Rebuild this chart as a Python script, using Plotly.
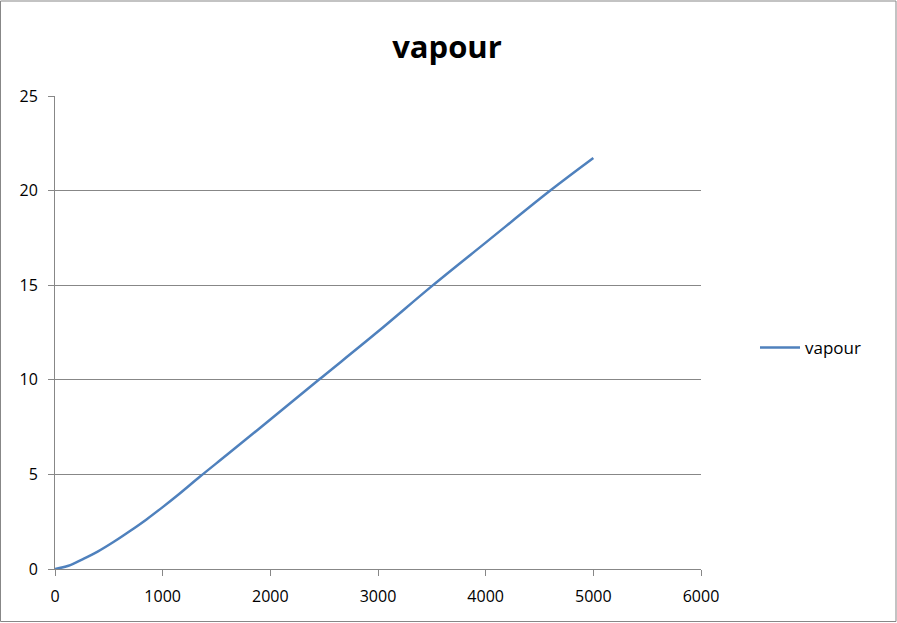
import plotly.graph_objects as go

x_vals = [0, 125, 250, 400, 550, 700, 850, 1000, 1150, 1350, 1600, 2000, 2450, 3000, 3500, 4000, 4600, 5000]
y_vals = [0, 0.17, 0.5, 0.93, 1.45, 2.02, 2.62, 3.27, 3.95, 4.9, 6.05, 7.9, 10.0, 12.55, 14.95, 17.25, 20.0, 21.72]
series_name = "vapour"
chart_title = "vapour"

W, H = 897, 623
L, R, T, B = 55, 196, 96, 54
pw, ph = W - L - R, H - T - B

fig = go.Figure()
fig.add_trace(go.Scatter(x=x_vals, y=y_vals, mode="lines", name=series_name,
                         line=dict(color="#4F81BD", width=2.5, shape="spline", smoothing=1.0)))

font = "Open Sans, Liberation Sans, sans-serif"
fig.update_layout(
    width=W, height=H,
    margin=dict(l=L, r=R, t=T, b=B, autoexpand=False),
    paper_bgcolor="white", plot_bgcolor="white",
    title=dict(text="<b>" + chart_title + "</b>", x=447 / W, xanchor="center",
               y=1 - 47 / H, yanchor="middle", font=dict(size=31, color="black", family=font)),
    showlegend=True,
    legend=dict(x=(755 - L) / pw, y=(569 - 348) / ph, xanchor="left", yanchor="middle",
                font=dict(size=17, color="black", family=font), bgcolor="rgba(0,0,0,0)",
                itemwidth=40),
    xaxis=dict(range=[0, 6000], tickvals=[0, 1000, 2000, 3000, 4000, 5000, 6000],
               showgrid=False, zeroline=False, showline=True, linecolor="#878787", linewidth=1,
               ticks="outside", ticklen=6, tickcolor="#878787", ticklabelstandoff=7,
               tickfont=dict(size=16, color="black", family=font)),
    yaxis=dict(range=[0, 25], tickvals=[0, 5, 10, 15, 20, 25],
               showgrid=True, gridcolor="#878787", gridwidth=1, zeroline=False,
               showline=True, linecolor="#878787", linewidth=1,
               ticks="outside", ticklen=6, tickcolor="#878787", ticklabelstandoff=7,
               tickfont=dict(size=16, color="black", family=font)),
)

fig.add_shape(type="rect", xref="paper", yref="paper",
              x0=(0.5 - L) / pw, x1=(896 - L) / pw,
              y0=(569 - 621.5) / ph, y1=(569 - 1) / ph,
              line=dict(color="#878787", width=1), fillcolor="rgba(0,0,0,0)", layer="below")

fig.write_html("out.html", config={"displayModeBar": False},
               post_script="document.body.style.margin='0';document.body.style.overflow='hidden';")
